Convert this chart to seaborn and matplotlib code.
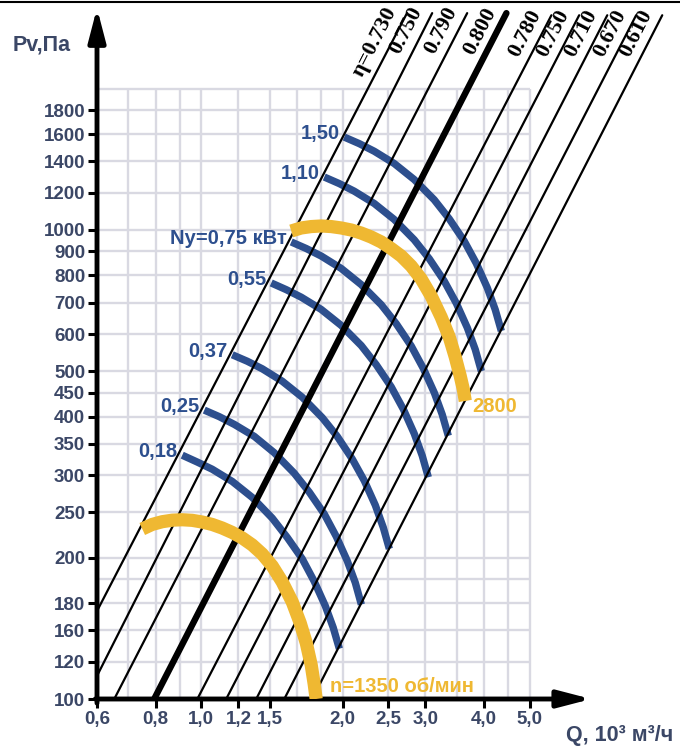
import matplotlib
matplotlib.use("Agg")
import matplotlib.pyplot as plt
from matplotlib.ticker import FixedLocator, FixedFormatter, NullLocator
from matplotlib.lines import Line2D
import seaborn as sns

# --- efficiency lines (Q in 10^3 m3/h, Pv in Pa), start and end points
eta_labels = ["η=0.730", "0.750", "0.790", "0.800", "0.780", "0.750", "0.710", "0.670", "0.610"]
eta_q0 = [0.60, 0.60, 0.653, 0.794, 0.981, 1.130, 1.309, 1.502, 1.722]
eta_p0 = [154, 112, 100, 100, 100, 100, 100, 100, 100]
eta_q1 = [2.74, 3.10, 3.68, 4.46, 5.56, 6.37, 7.31, 8.42, 9.57]
eta_p1 = [2900, 2900, 2900, 2900, 2870, 2870, 2870, 2870, 2870]

# --- power curves Ny, kW
ny_labels = ["1,50", "1,10", "Ny=0,75 кВт", "0,55", "0,37", "0,25", "0,18"]
ny150_q = [2.015, 2.169, 2.334, 2.574, 2.839, 3.131, 3.371, 3.627, 3.848, 4.061, 4.223, 4.350]
ny150_p = [1578, 1528, 1472, 1386, 1281, 1160, 1056, 947, 849, 753, 676, 609]
ny110_q = [1.827, 1.966, 2.116, 2.334, 2.574, 2.839, 3.057, 3.289, 3.489, 3.682, 3.829, 3.944]
ny110_p = [1297, 1256, 1210, 1139, 1053, 953, 868, 778, 698, 619, 556, 500]
ny075_q = [1.554, 1.673, 1.800, 1.985, 2.189, 2.415, 2.600, 2.797, 2.968, 3.132, 3.257, 3.355]
ny075_p = [943, 913, 880, 828, 765, 693, 631, 566, 507, 450, 404, 364]
ny055_q = [1.409, 1.517, 1.632, 1.800, 1.985, 2.190, 2.357, 2.536, 2.691, 2.839, 2.953, 3.042]
ny055_p = [771, 746, 719, 677, 626, 567, 516, 463, 415, 368, 330, 297]
ny037_q = [1.164, 1.253, 1.348, 1.487, 1.640, 1.809, 1.947, 2.095, 2.223, 2.346, 2.440, 2.513]
ny037_p = [542, 525, 506, 476, 440, 398, 363, 325, 292, 259, 232, 209]
ny025_q = [1.015, 1.092, 1.176, 1.297, 1.430, 1.577, 1.698, 1.827, 1.938, 2.045, 2.127, 2.191]
ny025_p = [413, 400, 385, 363, 335, 303, 276, 248, 222, 197, 177, 159]
ny018_q = [0.911, 0.981, 1.055, 1.164, 1.284, 1.416, 1.524, 1.640, 1.740, 1.836, 1.909, 1.967]
ny018_p = [331, 320, 309, 291, 269, 243, 221, 199, 178, 158, 142, 128]

# --- fan curves at 1350 and 2800 rpm
n1350_q = [0.749, 0.786, 0.826, 0.868, 0.911, 0.957, 1.005, 1.055, 1.108, 1.164, 1.223,
           1.284, 1.348, 1.416, 1.487, 1.562, 1.624, 1.673, 1.714, 1.739, 1.756]
n1350_p = [230.4, 235.6, 238.8, 240.6, 241.1, 240.4, 238.4, 235.6, 231.5, 226.5, 220.4,
           213.0, 203.8, 192.1, 177.6, 161.0, 145.2, 131.6, 118.1, 107.6, 100.0]
n2800_q = [1.554, 1.632, 1.714, 1.800, 1.890, 1.985, 2.085, 2.190, 2.300, 2.415, 2.536,
           2.664, 2.797, 2.938, 3.085, 3.240, 3.371, 3.471, 3.557, 3.610, 3.646]
n2800_p = [995, 1010, 1017, 1020, 1017, 1010, 1000, 985, 966, 943, 913,
           880, 838, 786, 723, 652, 591, 536, 488, 458, 432]

# --- axes ticks and grid
x_ticks = [0.6, 0.8, 1.0, 1.2, 1.4, 2.0, 2.5, 3.0, 4.0, 5.0]
x_tick_text = ["0,6", "0,8", "1,0", "1,2", "1,5", "2,0", "2,5", "3,0", "4,0", "5,0"]
y_ticks = [100, 120, 140, 160, 200, 250, 300, 350, 400, 450, 500, 600, 700, 800,
           900, 1000, 1200, 1400, 1600, 1800]
y_tick_text = ["100", "120", "160", "180", "200", "250", "300", "350", "400", "450", "500",
               "600", "700", "800", "900", "1000", "1200", "1400", "1600", "1800"]
grid_q = [0.7, 0.8, 0.9, 1.0, 1.2, 1.4, 1.6, 1.8, 2.0, 2.5, 3.0, 3.5, 4.0, 4.5, 5.0]
grid_p = [120, 140, 160, 180, 200, 250, 300, 350, 400, 450, 500, 600, 700, 800, 900,
          1000, 1200, 1400, 1600, 1800, 2000]

BLUE = "#2d4f8e"
GOLD = "#efb832"
LABEL = "#3b4766"
GRID = "#d9d9e2"

sns.set_style("white")
plt.rcParams['font.family'] = ['Liberation Sans', 'DejaVu Sans']

fig = plt.figure(figsize=(6.8, 7.47), dpi=100)
ax = fig.add_axes([97 / 680, 48 / 747, 583 / 680, 691 / 747])
ax.set_xscale('log')
ax.set_yscale('log')
ax.set_xlim(0.6, 10.44)
ax.set_ylim(100, 2974)
for s in ax.spines.values():
    s.set_visible(False)
ax.patch.set_alpha(0)

# grid
ax.vlines(grid_q, 100, 2000, color=GRID, lw=1.7, zorder=0)
ax.hlines(grid_p, 0.6, 5.0, color=GRID, lw=1.7, zorder=0)

# power curves (under the black lines)
ny_q = [ny150_q, ny110_q, ny075_q, ny055_q, ny037_q, ny025_q, ny018_q]
ny_p = [ny150_p, ny110_p, ny075_p, ny055_p, ny037_p, ny025_p, ny018_p]
for lab, q, p in zip(ny_labels, ny_q, ny_p):
    sns.lineplot(x=q, y=p, sort=False, estimator=None, ax=ax, color=BLUE, lw=5.3,
                 solid_capstyle='butt', solid_joinstyle='round', zorder=2)
    ax.annotate(lab, (q[0], p[0]), xytext=(-3.5, -1.5), textcoords='offset points',
                ha='right', va='baseline', fontsize=14.5, fontweight='bold', color=BLUE)

# efficiency lines
for i, lab in enumerate(eta_labels):
    w = 4.6 if lab == "0.800" else 1.6
    sns.lineplot(x=[eta_q0[i], eta_q1[i]], y=[eta_p0[i], eta_p1[i]], ax=ax,
                 color='black', lw=w, zorder=3)
    ax.annotate(lab, (eta_q1[i], eta_p1[i]), xytext=(-4.5, 0), textcoords='offset points',
                ha='right', va='bottom', rotation=63, rotation_mode='anchor',
                fontsize=16, fontweight='bold', family='Liberation Serif', color='black')

# fan curves
for q, p in [(n1350_q, n1350_p), (n2800_q, n2800_p)]:
    sns.lineplot(x=q, y=p, sort=False, estimator=None, ax=ax, color=GOLD, lw=9.5,
                 solid_capstyle='butt', solid_joinstyle='round', zorder=4)
ax.annotate("2800", (n2800_q[-1], n2800_p[-1]), xytext=(5, -4), textcoords='offset points',
            ha='left', va='center', fontsize=14.5, fontweight='bold', color=GOLD)
ax.annotate("n=1350 об/мин", (n1350_q[-1], n1350_p[-1]), xytext=(10, 9),
            textcoords='offset points', ha='left', va='center', fontsize=14.5,
            fontweight='bold', color=GOLD)

# axes with arrows
arrow = dict(arrowstyle='-|>,head_length=1.0,head_width=0.26', mutation_scale=20,
             lw=3.5, color='black', shrinkA=0, shrinkB=0)
ax.annotate('', xy=(0.6, 2974), xytext=(0.6, 98), arrowprops=arrow, annotation_clip=False)
ax.annotate('', xy=(6.76, 100), xytext=(0.595, 100), arrowprops=arrow, annotation_clip=False)

ax.xaxis.set_major_locator(FixedLocator(x_ticks))
ax.xaxis.set_major_formatter(FixedFormatter(x_tick_text))
ax.yaxis.set_major_locator(FixedLocator(y_ticks))
ax.yaxis.set_major_formatter(FixedFormatter(y_tick_text))
ax.xaxis.set_minor_locator(NullLocator())
ax.yaxis.set_minor_locator(NullLocator())
ax.tick_params(axis='both', direction='out', length=6.5, width=2.2, color='black',
               labelsize=13.5, labelcolor=LABEL, pad=2, left=True, bottom=True)
for t in ax.get_xticklabels() + ax.get_yticklabels():
    t.set_fontweight('bold')

fig.text(42 / 680, 1 - 45 / 747, "Pv,Па", ha='center', va='center', fontsize=15.5,
         fontweight='bold', color=LABEL)
fig.text(620 / 680, 1 - 735 / 747, "Q, 10³ м³/ч", ha='center', va='center', fontsize=15.5,
         fontweight='bold', color=LABEL)
fig.add_artist(Line2D([0, 1], [1 - 1.5 / 747] * 2, color='black', lw=1.5,
                      transform=fig.transFigure))

fig.savefig("out.png", dpi=100)
